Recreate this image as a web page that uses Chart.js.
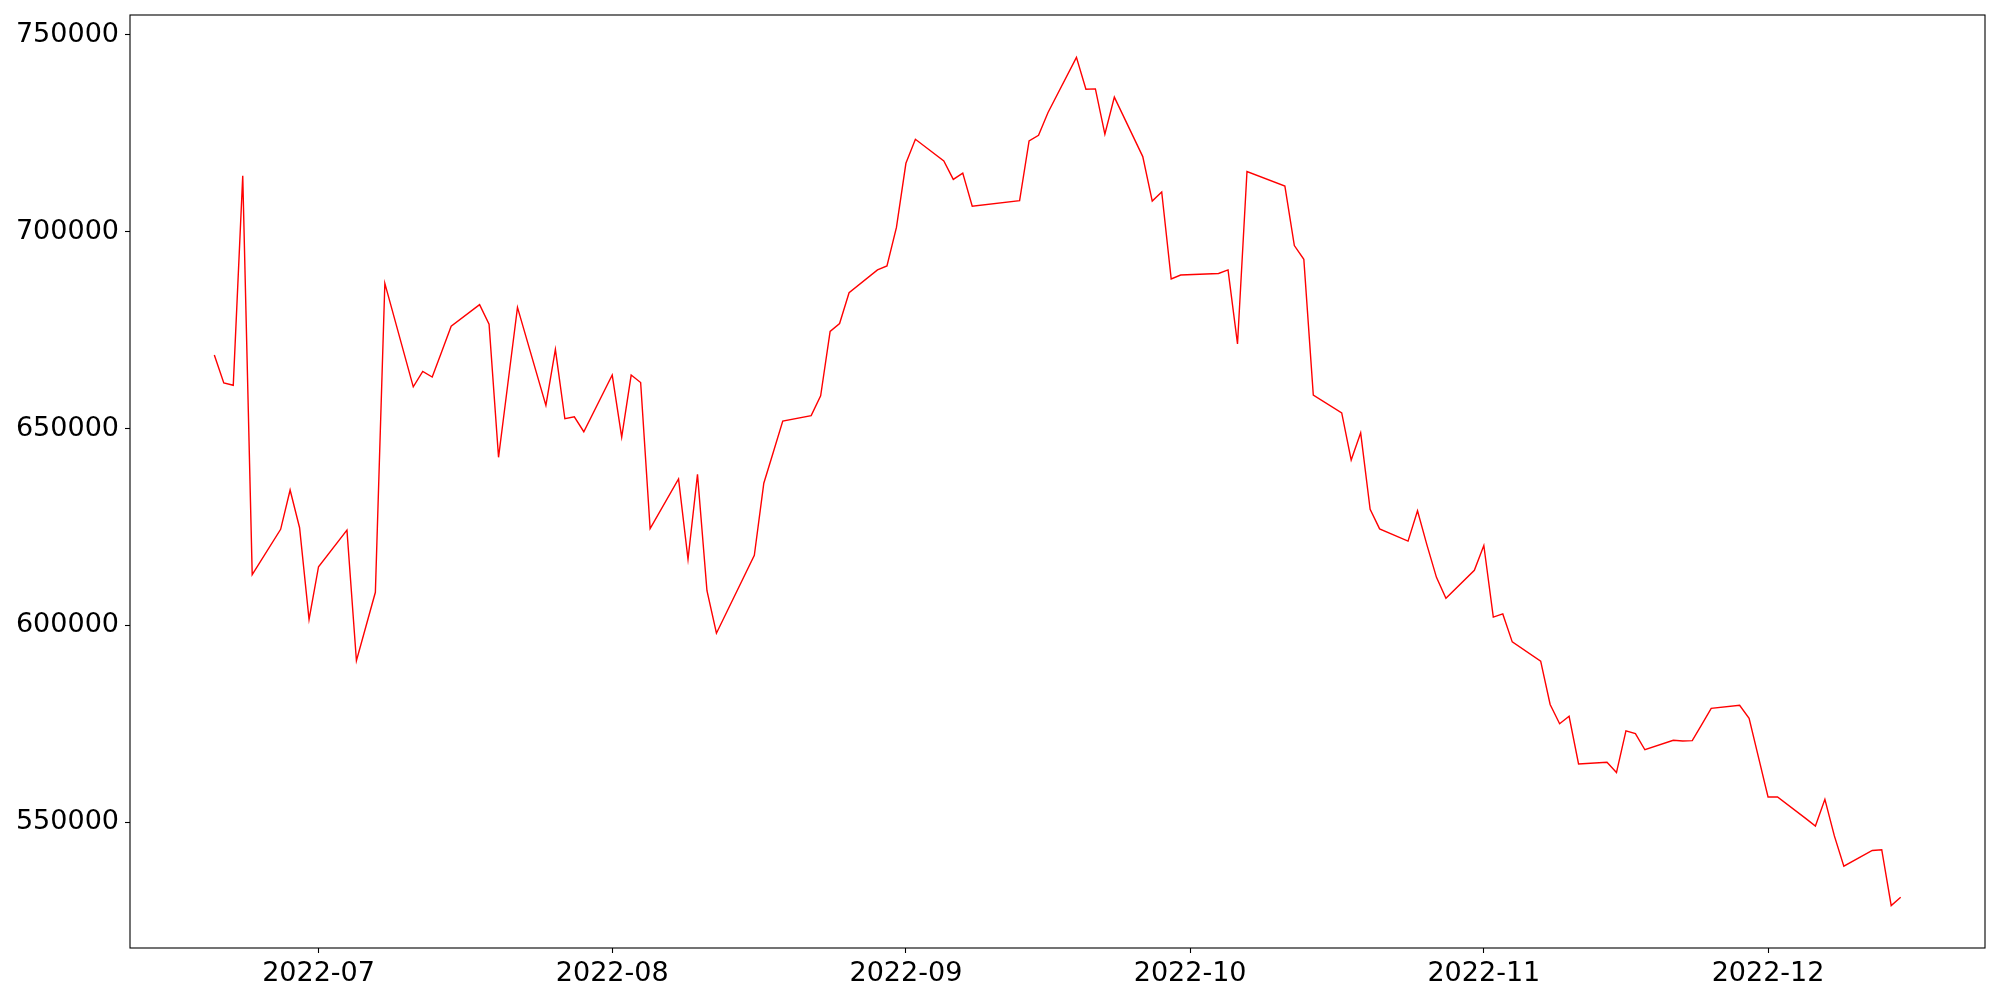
<!DOCTYPE html>
<html>
  <head>
    <title>Price line</title>
    <script src="https://cdn.jsdelivr.net/npm/chart.js@4.4.1/dist/chart.umd.min.js"></script>
    <style>
      body { margin: 0; background: #fff; }
    </style>
  </head>
  <body>
    <canvas id="myChart" width="2000" height="1000"></canvas>
  </body>
  <script>
    const dates = [
      '2022-06-20', '2022-06-21', '2022-06-22', '2022-06-23', '2022-06-24',
      '2022-06-27', '2022-06-28', '2022-06-29', '2022-06-30', '2022-07-01',
      '2022-07-04', '2022-07-05', '2022-07-06', '2022-07-07', '2022-07-08',
      '2022-07-11', '2022-07-12', '2022-07-13', '2022-07-14', '2022-07-15',
      '2022-07-18', '2022-07-19', '2022-07-20', '2022-07-21', '2022-07-22',
      '2022-07-25', '2022-07-26', '2022-07-27', '2022-07-28', '2022-07-29',
      '2022-08-01', '2022-08-02', '2022-08-03', '2022-08-04', '2022-08-05',
      '2022-08-08', '2022-08-09', '2022-08-10', '2022-08-11', '2022-08-12',
      '2022-08-16', '2022-08-17', '2022-08-18', '2022-08-19',
      '2022-08-22', '2022-08-23', '2022-08-24', '2022-08-25', '2022-08-26',
      '2022-08-29', '2022-08-30', '2022-08-31', '2022-09-01', '2022-09-02',
      '2022-09-05', '2022-09-06', '2022-09-07', '2022-09-08',
      '2022-09-13', '2022-09-14', '2022-09-15', '2022-09-16',
      '2022-09-19', '2022-09-20', '2022-09-21', '2022-09-22', '2022-09-23',
      '2022-09-26', '2022-09-27', '2022-09-28', '2022-09-29', '2022-09-30',
      '2022-10-04', '2022-10-05', '2022-10-06', '2022-10-07',
      '2022-10-11', '2022-10-12', '2022-10-13', '2022-10-14',
      '2022-10-17', '2022-10-18', '2022-10-19', '2022-10-20', '2022-10-21',
      '2022-10-24', '2022-10-25', '2022-10-26', '2022-10-27', '2022-10-28',
      '2022-10-31', '2022-11-01', '2022-11-02', '2022-11-03', '2022-11-04',
      '2022-11-07', '2022-11-08', '2022-11-09', '2022-11-10', '2022-11-11',
      '2022-11-14', '2022-11-15', '2022-11-16', '2022-11-17', '2022-11-18',
      '2022-11-21', '2022-11-22', '2022-11-23', '2022-11-24', '2022-11-25',
      '2022-11-28', '2022-11-29', '2022-11-30', '2022-12-01', '2022-12-02',
      '2022-12-05', '2022-12-06', '2022-12-07', '2022-12-08', '2022-12-09',
      '2022-12-12', '2022-12-13', '2022-12-14', '2022-12-15',
    ]

    const prices = [
      668700, 661600, 661000, 714200, 612900,
      624400, 634400, 624800, 601500, 614900,
      624200, 591000, 599700, 608400, 686900,
      660600, 664500, 663100, 669500, 676000,
      681500, 676500, 642700, 661700, 680800,
      655900, 670100, 652500, 653000, 649200,
      663600, 647800, 663600, 661700, 624600,
      637200, 616800, 638400, 608800, 598000,
      617800, 636100, 644000, 651900,
      653300, 658300, 674700, 676700, 684500,
      690300, 691300, 701100, 717400, 723500,
      718000, 713300, 714900, 706500,
      707900, 723100, 724500, 730300,
      744300, 736200, 736300, 724800, 734200,
      719100, 707800, 710100, 688000, 689000,
      689400, 690300, 671500, 715300,
      711600, 696500, 693000, 658500,
      654000, 642000, 648900, 629500, 624500,
      621400, 629100, 620400, 612200, 606900,
      614000, 620300, 602100, 602900, 595800,
      590900, 579900, 575000, 576900, 564800,
      565200, 562600, 573200, 572500, 568400,
      570800, 570600, 570700, 574800, 578900,
      579700, 576400, 566400, 556400, 556400,
      550900, 549000, 555800, 546500, 538800,
      542800, 543000, 528800, 530900,
    ]

    const monthTicks = ['2022-07-01', '2022-08-01', '2022-09-01', '2022-10-01', '2022-11-01', '2022-12-01']
    const yTicks = [550000, 600000, 650000, 700000, 750000]

    const toTime = (s) => Date.parse(s + 'T00:00:00Z')
    const points = dates.map((d, i) => ({ x: toTime(d), y: prices[i] }))

    // matplotlib-like 5% auto margins
    const xs = points.map((p) => p.x)
    const xLo = Math.min(...xs), xHi = Math.max(...xs)
    const yLo = Math.min(...prices), yHi = Math.max(...prices)
    const xPad = (xHi - xLo) * 0.05
    const yPad = (yHi - yLo) * 0.05

    const frame = {
      id: 'frame',
      afterDraw(chart) {
        const { ctx, chartArea: { left, top, width, height } } = chart
        ctx.save()
        ctx.strokeStyle = '#000'
        ctx.lineWidth = 1.1
        ctx.strokeRect(left, top, width, height)
        ctx.restore()
      },
    }

    Chart.defaults.color = '#000'
    Chart.defaults.font.family = "'DejaVu Sans', sans-serif"
    Chart.defaults.font.size = 27

    const ctx = document.getElementById('myChart').getContext('2d')
    const myChart = new Chart(ctx, {
      type: 'line',
      data: {
        datasets: [
          {
            data: points,
            borderColor: '#ff0000',
            borderWidth: 1.4,
            pointRadius: 0,
            tension: 0,
            fill: false,
          },
        ],
      },
      options: {
        responsive: false,
        animation: false,
        layout: { padding: { left: 0, top: 15, right: 15, bottom: 0 } },
        plugins: {
          legend: { display: false },
          tooltip: { enabled: false },
        },
        scales: {
          x: {
            type: 'linear',
            min: xLo - xPad,
            max: xHi + xPad,
            border: { display: false },
            grid: { drawOnChartArea: false, tickLength: 5, tickColor: '#000', tickWidth: 1.1 },
            ticks: {
              padding: 5,
              maxRotation: 0,
              autoSkip: false,
              callback: (v) => new Date(v).toISOString().slice(0, 7),
            },
            afterBuildTicks: (scale) => {
              scale.ticks = monthTicks.map((m) => ({ value: toTime(m) }))
            },
            afterFit: (scale) => {
              scale.height = 52
              scale.paddingLeft = 0
              scale.paddingRight = 0
            },
          },
          y: {
            min: yLo - yPad,
            max: yHi + yPad,
            border: { display: false },
            grid: { drawOnChartArea: false, tickLength: 5, tickColor: '#000', tickWidth: 1.1 },
            ticks: {
              padding: 6,
              callback: (v) => String(v),
            },
            afterBuildTicks: (scale) => {
              scale.ticks = yTicks.map((v) => ({ value: v }))
            },
            afterFit: (scale) => {
              scale.width = 130
              scale.paddingTop = 0
              scale.paddingBottom = 0
            },
          },
        },
      },
      plugins: [frame],
    })
  </script>
</html>
